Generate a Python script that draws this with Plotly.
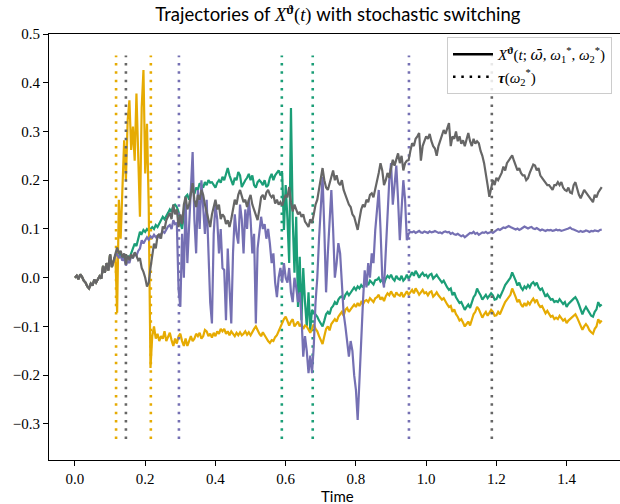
import numpy as np
import plotly.graph_objects as go

# ---- data ----
time = np.round(np.arange(301) * 0.005, 3)

common_start = [0.000, 0.004, -0.003, 0.007, 0.002, -0.006, -0.010, -0.018, -0.022, -0.012,
                -0.016, -0.004, -0.010, -0.002, 0.003, -0.002, 0.024, 0.010, 0.030, 0.015,
                0.048, 0.022, 0.036, 0.045]

gray_tail = [
    0.062, 0.050, 0.055, 0.042, 0.050, 0.030, 0.045, 0.036, 0.048, 0.040, 0.052, 0.045, 0.036, 0.040, 0.020, 0.012,
    0.000, -0.018, -0.010, 0.020, 0.045, 0.070, 0.060, 0.085, 0.090, 0.080, 0.105, 0.100, 0.118, 0.125, 0.133, 0.120, 0.150, 0.130, 0.140, 0.104,
    0.130, 0.110, 0.150, 0.166, 0.140, 0.150, 0.170, 0.194, 0.160, 0.145, 0.170, 0.160, 0.180, 0.170, 0.150, 0.135, 0.120, 0.104, 0.130, 0.145,
    0.160, 0.140, 0.150, 0.120, 0.130, 0.125, 0.110, 0.118, 0.104, 0.120, 0.145, 0.160, 0.150, 0.170, 0.180, 0.165, 0.155, 0.160, 0.145, 0.160,
    0.170, 0.150, 0.140, 0.130, 0.118, 0.140, 0.165, 0.170, 0.160, 0.175, 0.180, 0.170, 0.165, 0.170, 0.152, 0.160, 0.150, 0.155, 0.148, 0.160,
    0.170, 0.165, 0.186, 0.155, 0.136, 0.150, 0.140, 0.130, 0.135, 0.125, 0.130, 0.115, 0.110, 0.104, 0.120, 0.112, 0.130, 0.150, 0.160, 0.180,
    0.200, 0.225, 0.200, 0.185, 0.180, 0.195, 0.210, 0.220, 0.200, 0.210, 0.195, 0.190, 0.200, 0.180, 0.170, 0.160, 0.150, 0.145, 0.130, 0.125,
    0.110, 0.098, 0.120, 0.140, 0.150, 0.145, 0.160, 0.155, 0.170, 0.173, 0.165, 0.180, 0.200, 0.215, 0.235, 0.220, 0.190, 0.200, 0.215, 0.205,
    0.225, 0.242, 0.230, 0.242, 0.255, 0.235, 0.250, 0.220, 0.235, 0.240, 0.241, 0.260, 0.276, 0.270, 0.285, 0.290, 0.297, 0.240, 0.270, 0.280,
    0.290, 0.285, 0.295, 0.280, 0.270, 0.265, 0.250, 0.270, 0.280, 0.290, 0.303, 0.295, 0.305, 0.317, 0.270, 0.290, 0.285, 0.300, 0.280, 0.290,
    0.275, 0.282, 0.270, 0.285, 0.297, 0.280, 0.270, 0.285, 0.275, 0.280, 0.276, 0.260, 0.250, 0.235, 0.215, 0.190, 0.166, 0.185, 0.200, 0.190,
    0.205, 0.200, 0.207, 0.215, 0.228, 0.220, 0.235, 0.240, 0.245, 0.251, 0.240, 0.230, 0.220, 0.225, 0.215, 0.210, 0.210, 0.200, 0.204, 0.215,
    0.225, 0.232, 0.230, 0.220, 0.225, 0.210, 0.205, 0.200, 0.196, 0.190, 0.190, 0.185, 0.180, 0.190, 0.190, 0.196, 0.190, 0.196, 0.185, 0.180,
    0.178, 0.185, 0.175, 0.173, 0.190, 0.196, 0.180, 0.170, 0.163, 0.170, 0.180, 0.175, 0.170, 0.165, 0.160, 0.155, 0.170, 0.165, 0.175, 0.180, 0.186,
]

green_tail = [
    0.055, 0.045, 0.050, 0.040, 0.048, 0.035, 0.045, 0.040, 0.050, 0.060, 0.070, 0.065, 0.080, 0.094, 0.090, 0.098,
    0.094, 0.100, 0.096, 0.100, 0.104, 0.100, 0.108, 0.104, 0.112, 0.118, 0.125, 0.120, 0.128, 0.133, 0.140, 0.135, 0.148, 0.150, 0.145, 0.135,
    0.112, 0.100, 0.130, 0.166, 0.170, 0.160, 0.175, 0.180, 0.172, 0.185, 0.180, 0.194, 0.190, 0.185, 0.196, 0.190, 0.200, 0.195, 0.196, 0.190,
    0.185, 0.195, 0.200, 0.195, 0.207, 0.200, 0.215, 0.225, 0.210, 0.200, 0.190, 0.205, 0.200, 0.217, 0.210, 0.186, 0.195, 0.200, 0.205, 0.213,
    0.200, 0.210, 0.190, 0.185, 0.196, 0.200, 0.196, 0.190, 0.200, 0.186, 0.190, 0.205, 0.213, 0.200, 0.210, 0.215, 0.220, 0.210, 0.215, 0.098,
    0.190, 0.120, 0.030, 0.348, 0.120, 0.010, 0.125, -0.060, 0.043, -0.087, 0.020, -0.050, -0.100, -0.030, -0.107, -0.066, -0.070, -0.075, -0.080, -0.088,
    -0.095, -0.100, -0.088, -0.075, -0.070, -0.075, -0.062, -0.058, -0.050, -0.055, -0.045, -0.040, -0.038, -0.045, -0.035, -0.030, -0.036, -0.030, -0.025, -0.020,
    -0.025, -0.018, -0.022, -0.015, -0.020, -0.012, -0.010, -0.015, -0.006, -0.010, -0.014, -0.005, -0.004, 0.000, -0.008, -0.004, -0.012, -0.002, 0.004, 0.000,
    0.006, -0.002, -0.006, 0.004, -0.002, -0.004, 0.004, -0.006, -0.002, 0.006, -0.002, 0.004, 0.011, 0.004, 0.014, 0.008, 0.000, 0.006, 0.010, 0.004,
    0.006, 0.000, 0.006, 0.008, -0.002, 0.002, 0.006, 0.000, -0.004, -0.010, -0.006, -0.015, -0.020, -0.025, -0.022, -0.036, -0.030, -0.040, -0.045, -0.052,
    -0.050, -0.058, -0.066, -0.060, -0.055, -0.062, -0.050, -0.040, -0.035, -0.022, -0.030, -0.036, -0.045, -0.040, -0.035, -0.042, -0.038, -0.032, -0.036, -0.045,
    -0.044, -0.036, -0.040, -0.030, -0.024, -0.015, -0.010, -0.005, 0.000, 0.011, 0.004, -0.006, -0.016, -0.010, -0.020, -0.025, -0.018, -0.022, -0.015, -0.020,
    -0.012, -0.009, -0.015, -0.010, -0.020, -0.025, -0.022, -0.030, -0.039, -0.034, -0.040, -0.045, -0.044, -0.050, -0.048, -0.050, -0.044, -0.048, -0.054, -0.050,
    -0.060, -0.054, -0.050, -0.045, -0.043, -0.040, -0.046, -0.055, -0.066, -0.075, -0.066, -0.060, -0.066, -0.072, -0.078, -0.080, -0.070, -0.065, -0.050, -0.058, -0.055,
]

orange_tail = [
    -0.072, 0.160, 0.080, 0.194, 0.282, 0.200, 0.323, 0.364, 0.262, 0.310, 0.240, 0.378, 0.247, 0.125, 0.350, 0.426,
    0.214, 0.316, 0.145, -0.185, -0.120, -0.100, -0.125, -0.115, -0.130, -0.120, -0.125, -0.110, -0.130, -0.120, -0.113, -0.128, -0.140, -0.125, -0.135, -0.120,
    -0.115, -0.130, -0.140, -0.125, -0.140, -0.130, -0.120, -0.130, -0.125, -0.115, -0.120, -0.113, -0.125, -0.120, -0.107, -0.110, -0.120, -0.115, -0.123, -0.113,
    -0.120, -0.110, -0.115, -0.105, -0.110, -0.105, -0.115, -0.110, -0.118, -0.110, -0.115, -0.120, -0.113, -0.118, -0.112, -0.118, -0.115, -0.110, -0.117, -0.112,
    -0.118, -0.110, -0.105, -0.100, -0.108, -0.115, -0.120, -0.112, -0.118, -0.125, -0.130, -0.134, -0.128, -0.130, -0.122, -0.118, -0.110, -0.100, -0.093, -0.085,
    -0.080, -0.090, -0.098, -0.090, -0.085, -0.100, -0.095, -0.090, -0.100, -0.095, -0.105, -0.098, -0.100, -0.108, -0.113, -0.105, -0.095, -0.105, -0.110, -0.120,
    -0.128, -0.136, -0.120, -0.105, -0.100, -0.108, -0.095, -0.090, -0.085, -0.090, -0.080, -0.075, -0.070, -0.078, -0.066, -0.062, -0.070, -0.065, -0.060, -0.055,
    -0.060, -0.052, -0.058, -0.050, -0.055, -0.048, -0.046, -0.050, -0.042, -0.045, -0.050, -0.042, -0.040, -0.035, -0.045, -0.040, -0.048, -0.038, -0.032, -0.036,
    -0.028, -0.035, -0.040, -0.030, -0.035, -0.037, -0.030, -0.040, -0.035, -0.028, -0.035, -0.030, -0.025, -0.032, -0.022, -0.028, -0.035, -0.030, -0.025, -0.032,
    -0.030, -0.036, -0.030, -0.028, -0.039, -0.035, -0.030, -0.036, -0.040, -0.045, -0.042, -0.050, -0.055, -0.060, -0.058, -0.070, -0.065, -0.075, -0.080, -0.088,
    -0.085, -0.092, -0.100, -0.095, -0.090, -0.098, -0.085, -0.075, -0.070, -0.060, -0.065, -0.072, -0.082, -0.075, -0.070, -0.078, -0.072, -0.066, -0.070, -0.078,
    -0.077, -0.070, -0.075, -0.065, -0.058, -0.050, -0.045, -0.040, -0.035, -0.022, -0.030, -0.040, -0.050, -0.045, -0.055, -0.060, -0.052, -0.058, -0.050, -0.055,
    -0.048, -0.043, -0.050, -0.045, -0.055, -0.060, -0.058, -0.065, -0.073, -0.068, -0.075, -0.080, -0.078, -0.085, -0.082, -0.085, -0.078, -0.082, -0.088, -0.085,
    -0.093, -0.088, -0.085, -0.080, -0.078, -0.075, -0.082, -0.090, -0.100, -0.107, -0.100, -0.095, -0.100, -0.108, -0.112, -0.115, -0.105, -0.100, -0.085, -0.092, -0.088,
]

purple_tail = [
    0.050, 0.040, 0.045, 0.035, 0.040, 0.025, 0.035, 0.030, 0.045, 0.040, 0.050, 0.045, 0.055, 0.060, 0.077, 0.070,
    0.077, 0.083, 0.078, 0.085, 0.082, 0.088, 0.083, 0.086, 0.083, 0.090, 0.095, 0.092, 0.100, 0.105, 0.108, 0.100, 0.118, 0.110, 0.112, -0.025,
    -0.060, 0.090, 0.000, 0.160, 0.030, 0.110, 0.200, 0.258, 0.120, 0.050, 0.180, 0.100, 0.200, 0.138, 0.090, 0.160, 0.050, -0.050, -0.094, 0.090,
    0.150, 0.120, 0.050, 0.100, 0.020, 0.016, -0.087, 0.060, -0.020, -0.094, 0.050, 0.130, 0.090, 0.070, 0.150, 0.120, 0.050, 0.140, 0.100, 0.160,
    0.120, 0.050, 0.090, -0.094, 0.060, 0.100, 0.125, 0.100, 0.110, 0.080, 0.100, 0.070, 0.030, 0.050, -0.010, -0.040, 0.000, 0.020, -0.010, 0.030,
    0.000, -0.010, 0.020, -0.030, -0.050, 0.000, -0.020, -0.050, -0.030, -0.080, -0.162, -0.120, -0.150, -0.196, -0.160, -0.196, -0.140, -0.050, 0.000, 0.080,
    0.145, 0.207, 0.100, -0.030, 0.050, 0.120, 0.180, 0.100, 0.000, 0.030, 0.071, 0.050, -0.020, -0.073, -0.100, -0.130, -0.162, -0.130, -0.150, -0.200,
    -0.230, -0.292, -0.200, -0.130, -0.050, 0.015, -0.020, 0.030, 0.000, 0.050, 0.030, 0.097, 0.140, 0.180, 0.100, 0.000, -0.020, 0.060, 0.120, 0.200,
    0.235, 0.150, 0.190, 0.230, 0.160, 0.077, 0.140, 0.200, 0.160, 0.077, 0.090, 0.094, 0.093, 0.095, 0.092, 0.094, 0.096, 0.093, 0.092, 0.095,
    0.094, 0.092, 0.095, 0.093, 0.094, 0.096, 0.094, 0.092, 0.093, 0.091, 0.094, 0.095, 0.093, 0.094, 0.090, 0.092, 0.089, 0.088, 0.090, 0.087,
    0.085, 0.087, 0.083, 0.086, 0.089, 0.092, 0.091, 0.094, 0.090, 0.092, 0.088, 0.090, 0.093, 0.092, 0.094, 0.091, 0.093, 0.094, 0.092, 0.095,
    0.097, 0.100, 0.098, 0.101, 0.103, 0.102, 0.104, 0.106, 0.104, 0.102, 0.100, 0.099, 0.101, 0.098, 0.100, 0.102, 0.105, 0.103, 0.101, 0.103,
    0.104, 0.101, 0.100, 0.102, 0.099, 0.097, 0.099, 0.098, 0.096, 0.098, 0.097, 0.098, 0.096, 0.097, 0.099, 0.097, 0.098, 0.096, 0.097, 0.099,
    0.100, 0.101, 0.103, 0.100, 0.099, 0.097, 0.095, 0.094, 0.096, 0.094, 0.095, 0.097, 0.096, 0.094, 0.096, 0.095, 0.097, 0.096, 0.095, 0.098, 0.099,
]

# switching times tau(omega_2*) for each trajectory
green_switch = [0.589, 0.677]
orange_switch = [0.117, 0.216]
purple_switch = [0.296, 0.951]
gray_switch = [0.145, 1.187]
vline_span = [-0.331, 0.456]

series = [
    ("green", "#1b9e77", common_start + green_tail, green_switch),
    ("orange", "#e6ab02", common_start + orange_tail, orange_switch),
    ("purple", "#7570b3", common_start + purple_tail, purple_switch),
    ("gray", "#666666", common_start + gray_tail, gray_switch),
]
for name, _, vals, _ in series:
    assert len(vals) == len(time), (name, len(vals))

DOT = "2.5px,5.8px"
fig = go.Figure()
for name, color, vals, switches in series:
    fig.add_trace(go.Scatter(x=time, y=vals, mode="lines",
                             line=dict(color=color, width=2.2), showlegend=False,
                             hoverinfo="skip"))
    for s in switches:
        fig.add_trace(go.Scatter(x=[s, s], y=vline_span, mode="lines",
                                 line=dict(color=color, width=2.6, dash=DOT),
                                 showlegend=False, hoverinfo="skip"))

# legend proxies
fig.add_trace(go.Scatter(
    x=[None], y=[None], mode="lines", line=dict(color="black", width=2.4),
    name='<i>X</i><sup><b>ϑ</b></sup>(<i>t</i>; <span style="font-family:DejaVu Serif">'
         '<i>ω\u0304</i></span>, <i>ω</i><sub>1</sub><sup>*</sup>, <i>ω</i><sub>2</sub><sup>*</sup>)'))
fig.add_trace(go.Scatter(
    x=[None], y=[None], mode="lines", line=dict(color="black", width=2.6, dash=DOT),
    name="<b><i>τ</i></b>(<i>ω</i><sub>2</sub><sup>*</sup>)"))

SERIF = "Liberation Serif, DejaVu Serif, serif"
SANS = "Lato, Liberation Sans, sans-serif"

fig.update_layout(
    width=620, height=504,
    margin=dict(l=49, r=0, t=34, b=44, autoexpand=False),
    paper_bgcolor="white", plot_bgcolor="white",
    title=dict(
        text='Trajectories of <span style="font-family:Liberation Serif">'
             '<i>X</i><sup><b>ϑ</b></sup>(<i>t</i>)</span> with stochastic switching',
        x=0.545, xanchor="center", y=1 - 15 / 504, yanchor="middle",
        font=dict(family=SANS, size=18.5, color="black")),
    legend=dict(x=0.986, xanchor="right", y=0.993, yanchor="top",
                bgcolor="rgba(255,255,255,0.85)", bordercolor="#cccccc", borderwidth=1,
                font=dict(family=SERIF, size=15, color="black"),
                itemwidth=40, tracegroupgap=2),
    showlegend=True,
    annotations=[dict(text="Time", xref="paper", yref="paper", x=0.505, y=-0.085,
                      xanchor="center", yanchor="middle", showarrow=False,
                      font=dict(family=SANS, size=15, color="black"))],
)
fig.update_xaxes(
    range=[-0.074, 1.552], tickvals=[0.0, 0.2, 0.4, 0.6, 0.8, 1.0, 1.2, 1.4],
    tickformat=".1f", ticks="outside", ticklen=5, tickwidth=1, tickcolor="black",
    showline=True, linecolor="black", linewidth=1, mirror=True, showgrid=False, zeroline=False,
    tickfont=dict(family=SERIF, size=15, color="black"), automargin=False,
)
fig.update_yaxes(
    range=[-0.374, 0.5], tickvals=[-0.3, -0.2, -0.1, 0.0, 0.1, 0.2, 0.3, 0.4, 0.5],
    tickformat=".1f", ticks="outside", ticklen=5, tickwidth=1, tickcolor="black",
    showline=True, linecolor="black", linewidth=1, mirror=False, showgrid=False, zeroline=False,
    tickfont=dict(family=SERIF, size=15, color="black"), automargin=False,
)
fig.write_html("out.html", config={"displayModeBar": False},
               post_script="document.body.style.margin='0';document.body.style.overflow='hidden';")
